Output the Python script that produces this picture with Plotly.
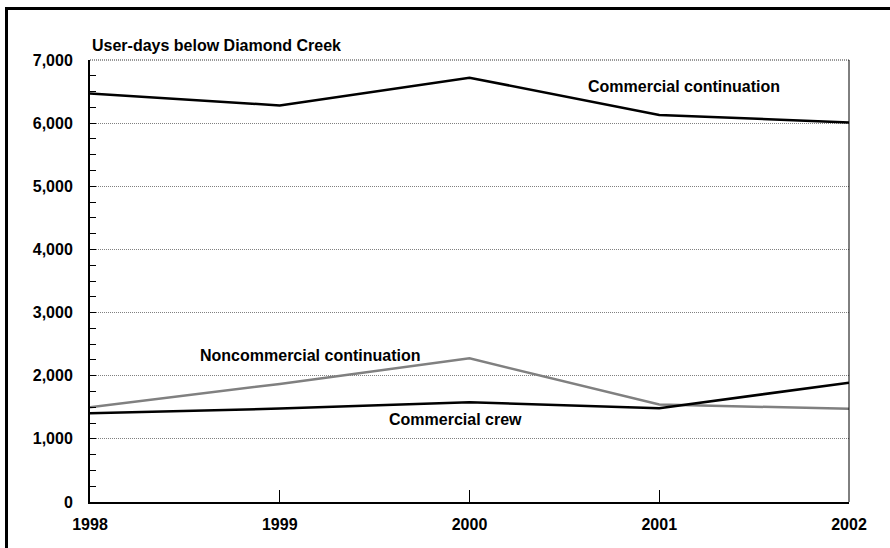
import plotly.graph_objects as go

years = [1998, 1999, 2000, 2001, 2002]
commercial_continuation = [6470, 6280, 6720, 6130, 6010]
noncommercial_continuation = [1500, 1870, 2275, 1545, 1475]
commercial_crew = [1405, 1480, 1580, 1485, 1890]
y_ticks = [0, 1000, 2000, 3000, 4000, 5000, 6000, 7000]
y_tick_labels = ["0", "1,000", "2,000", "3,000", "4,000", "5,000", "6,000", "7,000"]
title_text = "User-days below Diamond Creek"

FONT = "Liberation Sans, Arial, sans-serif"
FS = 16
W, H = 890, 548
ML, MR, MT, MB = 90, 41, 60, 46
PW, PH = W - ML - MR, H - MT - MB

fig = go.Figure()
fig.add_trace(go.Scatter(x=years, y=noncommercial_continuation, mode="lines",
                         line=dict(color="#808080", width=2.5), name="Noncommercial continuation"))
fig.add_trace(go.Scatter(x=years, y=commercial_crew, mode="lines",
                         line=dict(color="#000000", width=2.5), name="Commercial crew"))
fig.add_trace(go.Scatter(x=years, y=commercial_continuation, mode="lines",
                         line=dict(color="#000000", width=2.5), name="Commercial continuation"))

def px2paper_x(px):
    return (px - ML) / PW

def px2paper_y(py):
    return (H - MB - py) / PH

shapes = [
    # outer frame (only top and left visible in the picture)
    dict(type="rect", xref="paper", yref="paper",
         x0=px2paper_x(6.5), x1=px2paper_x(W + 10), y0=px2paper_y(8.5), y1=px2paper_y(H + 10),
         line=dict(color="#000000", width=3), fillcolor="rgba(0,0,0,0)", layer="above"),
    # top border of plot
    dict(type="line", xref="paper", yref="paper", x0=0, x1=1, y0=1, y1=1,
         line=dict(color="#333333", width=1, dash="1px,1px"), layer="above"),
    # right border of plot
    dict(type="line", xref="paper", yref="paper", x0=1, x1=1, y0=0, y1=1,
         line=dict(color="#000000", width=1), layer="above"),
]

lab_font = dict(family=FONT, size=FS, color="#000000")
annotations = [
    dict(text="<b>" + title_text + "</b>", xref="paper", yref="paper", x=0, y=px2paper_y(46),
         xanchor="left", yanchor="middle", showarrow=False, font=lab_font),
    dict(text="<b>Commercial continuation</b>", x=2001.128, y=6588, showarrow=False,
         xanchor="center", yanchor="middle", font=lab_font),
    dict(text="<b>Noncommercial continuation</b>", x=1999.161, y=2317, showarrow=False,
         xanchor="center", yanchor="middle", font=lab_font),
    dict(text="<b>Commercial crew</b>", x=1999.924, y=1299, showarrow=False,
         xanchor="center", yanchor="middle", font=lab_font),
]

fig.update_layout(
    width=W, height=H,
    margin=dict(l=ML, r=MR, t=MT, b=MB, pad=0),
    paper_bgcolor="#ffffff", plot_bgcolor="#ffffff",
    showlegend=False,
    shapes=shapes, annotations=annotations,
    xaxis=dict(range=[1998, 2002], tickvals=years, ticktext=[f"<b>{y}</b>" for y in years],
               ticks="inside", ticklen=12, tickwidth=1, tickcolor="#000",
               showgrid=False, zeroline=False, showline=True, linecolor="#000", linewidth=2,
               ticklabelstandoff=7, tickfont=lab_font),
    yaxis=dict(range=[0, 7000], tickvals=y_ticks, ticktext=[f"<b>{t}</b>" for t in y_tick_labels],
               ticks="inside", ticklen=6, tickwidth=1, tickcolor="#000",
               minor=dict(dtick=250, tick0=0, ticks="inside", ticklen=6, tickwidth=1,
                          tickcolor="#000", showgrid=False),
               showgrid=True, gridcolor="#808080", gridwidth=1, griddash="1px,1px",
               zeroline=False, showline=True, linecolor="#000", linewidth=2,
               ticklabelstandoff=12, tickfont=lab_font),
)

fig.write_html("out.html", config={"displayModeBar": False},
               post_script="document.body.style.margin='0';document.body.style.overflow='hidden';")
